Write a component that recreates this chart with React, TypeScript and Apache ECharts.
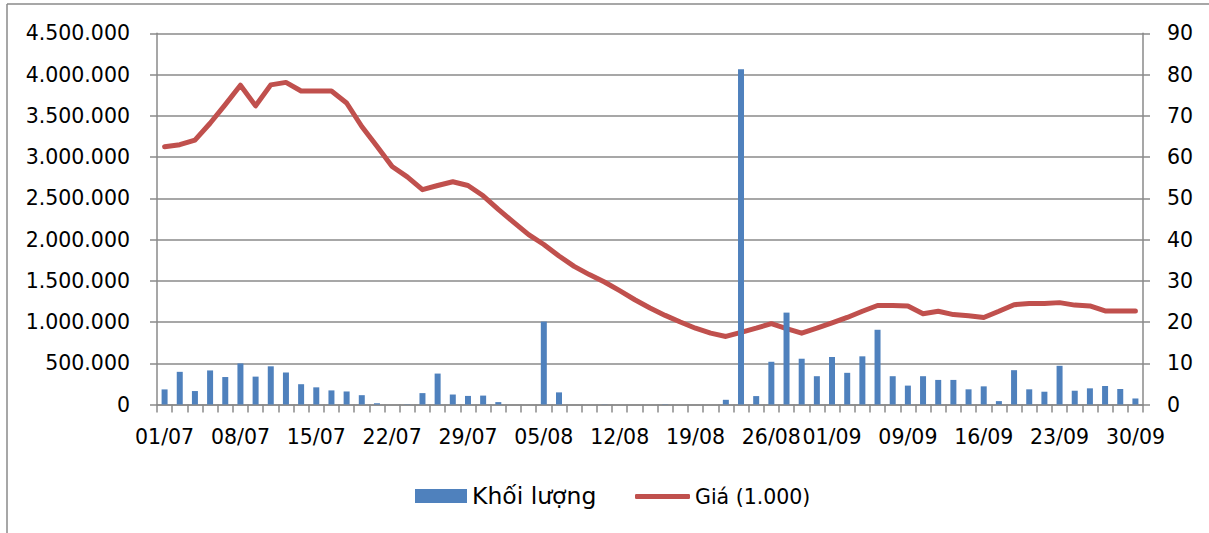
import React, { useEffect, useRef } from "react";
import * as echarts from "echarts";

const categories: string[] = [
  "01/07", "02/07", "03/07", "04/07", "07/07", "08/07", "09/07", "10/07", "11/07", "14/07",
  "15/07", "16/07", "17/07", "18/07", "21/07", "22/07", "23/07", "24/07", "25/07", "28/07",
  "29/07", "30/07", "31/07", "01/08", "04/08", "05/08", "06/08", "07/08", "08/08", "11/08",
  "12/08", "13/08", "14/08", "15/08", "18/08", "19/08", "20/08", "21/08", "22/08", "25/08",
  "26/08", "27/08", "28/08", "29/08", "01/09", "03/09", "04/09", "05/09", "08/09", "09/09",
  "10/09", "11/09", "12/09", "15/09", "16/09", "17/09", "18/09", "19/09", "22/09", "23/09",
  "24/09", "25/09", "26/09", "29/09", "30/09",
];

const tickLabels: string[] = [
  "01/07", "08/07", "15/07", "22/07", "29/07", "05/08", "12/08", "19/08", "26/08",
  "01/09", "09/09", "16/09", "23/09", "30/09",
];

const volume: number[] = [
  183000, 396000, 163000, 413000, 333000, 498000, 338000, 463000, 388000, 246000,
  208000, 171000, 158000, 113000, 15000, 0, 3000, 138000, 375000, 121000,
  104000, 108000, 29000, 0, 0, 1005000, 147000, 0, 0, 2000,
  0, 0, 0, 3000, 0, 0, 0, 57000, 4065000, 102000,
  518000, 1114000, 555000, 343000, 576000, 384000, 584000, 906000, 343000, 229000,
  343000, 298000, 298000, 184000, 220000, 41000, 416000, 184000, 155000, 469000,
  167000, 196000, 224000, 188000, 73000,
];

const price: number[] = [
  62.5, 63.0, 64.1, 68.2, 72.7, 77.4, 72.4, 77.5, 78.1, 76.0,
  76.0, 76.0, 73.1, 67.4, 62.6, 57.7, 55.2, 52.1, 53.1, 54.0,
  53.1, 50.6, 47.3, 44.2, 41.2, 38.8, 36.0, 33.5, 31.5, 29.7,
  27.6, 25.4, 23.4, 21.6, 20.0, 18.5, 17.3, 16.5, 17.5, 18.5,
  19.6, 18.4, 17.3, 18.5, 19.8, 21.1, 22.6, 24.0, 24.0, 23.9,
  22.0, 22.6, 21.8, 21.5, 21.1, 22.6, 24.2, 24.5, 24.5, 24.7,
  24.1, 23.9, 22.7, 22.7, 22.7,
];

const volumeName = "Khối lượng";
const priceName = "Giá (1.000)";

const FONT = "DejaVu Sans";
const GRID_COLOR = "#8a8a8a";
const BAR_COLOR = "#4F81BD";
const LINE_COLOR = "#C0504D";

function fmtThousands(v: number): string {
  return String(Math.round(v)).replace(/\B(?=(\d{3})+(?!\d))/g, ".");
}

export default function App() {
  const ref = useRef<HTMLDivElement>(null);

  useEffect(() => {
    if (!ref.current) return;
    const chart = echarts.init(ref.current, undefined, { renderer: "svg" });
    const axisLine = { show: true, lineStyle: { color: GRID_COLOR, width: 1.5 } };
    const option: any = {
      animation: false,
      backgroundColor: "#ffffff",
      grid: { left: 157, right: 66, top: 33.3, bottom: 128.5, containLabel: false },
      xAxis: {
        type: "category",
        data: categories,
        boundaryGap: true,
        axisLine,
        axisTick: {
          show: true,
          interval: 0,
          length: 8,
          inside: false,
          lineStyle: { color: GRID_COLOR, width: 1.5 },
        },
        axisLabel: {
          interval: (_i: number, v: string) => tickLabels.includes(v),
          fontFamily: FONT,
          fontSize: 20.5,
          color: "#000",
          margin: 22,
        },
        splitLine: { show: false },
      },
      yAxis: [
        {
          type: "value",
          min: 0,
          max: 4500000,
          interval: 500000,
          position: "left",
          axisLine,
          axisTick: { show: true, length: 7, lineStyle: { color: GRID_COLOR, width: 1.5 } },
          axisLabel: {
            formatter: (v: number) => fmtThousands(v),
            fontFamily: FONT,
            fontSize: 20.5,
            color: "#000",
            margin: 27,
          },
          splitLine: { show: true, lineStyle: { color: GRID_COLOR, width: 1.5 } },
        },
        {
          type: "value",
          min: 0,
          max: 90,
          interval: 10,
          position: "right",
          axisLine,
          axisTick: { show: true, length: 7, lineStyle: { color: GRID_COLOR, width: 1.5 } },
          axisLabel: {
            fontFamily: FONT,
            fontSize: 20.5,
            color: "#000",
            margin: 24,
          },
          splitLine: { show: false },
        },
      ],
      legend: [
        {
          data: [{ name: volumeName, icon: "rect", itemStyle: { color: BAR_COLOR } }],
          left: 415,
          top: 484,
          padding: 0,
          itemWidth: 52,
          itemHeight: 14,
          textStyle: { fontFamily: FONT, fontSize: 23.5, color: "#000" },
          selectedMode: false,
        },
        {
          data: [{ name: priceName, icon: "roundRect", itemStyle: { color: LINE_COLOR } }],
          left: 635,
          top: 486,
          padding: 0,
          itemWidth: 55,
          itemHeight: 5,
          textStyle: { fontFamily: FONT, fontSize: 20.5, color: "#000" },
          selectedMode: false,
        },
      ],
      series: [
        {
          name: volumeName,
          type: "bar",
          yAxisIndex: 0,
          data: volume,
          barWidth: 6,
          itemStyle: { color: BAR_COLOR },
          z: 3,
        },
        {
          name: priceName,
          type: "line",
          yAxisIndex: 1,
          data: price,
          symbol: "none",
          showSymbol: false,
          smooth: false,
          lineStyle: { color: LINE_COLOR, width: 5, join: "round", cap: "round" },
          itemStyle: { color: LINE_COLOR },
          z: 2,
        },
      ],
      graphic: [
        {
          type: "line",
          shape: { x1: 7, y1: 4, x2: 1209, y2: 4 },
          style: { stroke: GRID_COLOR, lineWidth: 1.5 },
          silent: true,
        },
        {
          type: "line",
          shape: { x1: 7, y1: 4, x2: 7, y2: 533 },
          style: { stroke: GRID_COLOR, lineWidth: 1.5 },
          silent: true,
        },
      ],
    };
    chart.setOption(option);
    return () => chart.dispose();
  }, []);

  return (
    <div
      ref={ref}
      style={{ position: "fixed", left: 0, top: 0, width: 1209, height: 533, background: "#fff" }}
    />
  );
}
